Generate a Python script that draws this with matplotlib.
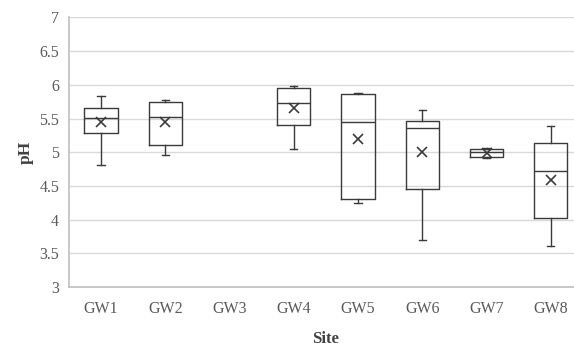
import matplotlib
matplotlib.use("Agg")
import matplotlib.pyplot as plt

sites = ["GW1", "GW2", "GW3", "GW4", "GW5", "GW6", "GW7", "GW8"]
whisker_low = [4.81, 4.96, None, 5.05, 4.25, 3.69, 4.92, 3.61]
q1 = [5.29, 5.11, None, 5.41, 4.31, 4.45, 4.93, 4.02]
median = [5.51, 5.53, None, 5.73, 5.45, 5.36, 5.00, 4.72]
q3 = [5.66, 5.75, None, 5.96, 5.86, 5.47, 5.05, 5.14]
whisker_high = [5.83, 5.78, None, 5.98, 5.88, 5.63, 5.06, 5.39]
mean = [5.45, 5.45, None, 5.66, 5.19, 5.01, 4.99, 4.59]
yticks = [3, 3.5, 4, 4.5, 5, 5.5, 6, 6.5, 7]
ytick_labels = ["3", "3.5", "4", "4.5", "5", "5.5", "6", "6.5", "7"]

plt.rcParams["font.family"] = ["Liberation Serif", "DejaVu Serif"]

fig = plt.figure(figsize=(5.74, 3.47), dpi=100)
ax = fig.add_axes([0.120, 0.173, 0.8955, 0.7767])

stats = []
positions = []
for i, s in enumerate(sites):
    if q1[i] is None:
        continue
    stats.append(dict(label=s, whislo=whisker_low[i], q1=q1[i], med=median[i],
                      q3=q3[i], whishi=whisker_high[i], mean=mean[i], fliers=[]))
    positions.append(i + 1)

line_col = "#3a3a3a"
ax.bxp(stats, positions=positions, widths=0.52, showmeans=True,
       capwidths=0.11,
       boxprops=dict(color=line_col, linewidth=1.0),
       medianprops=dict(color=line_col, linewidth=1.0),
       whiskerprops=dict(color=line_col, linewidth=1.0),
       capprops=dict(color=line_col, linewidth=1.0),
       meanprops=dict(marker="x", markeredgecolor=line_col, markersize=7,
                      markeredgewidth=1.2))

ax.set_xlim(0.5, len(sites) + 0.5)
ax.set_ylim(3, 7)
ax.set_xticks(range(1, len(sites) + 1))
ax.set_xticklabels(sites, fontsize=11.5, color="#595959")
ax.set_yticks(yticks)
ax.set_yticklabels(ytick_labels, fontsize=11.5, color="#595959")
ax.tick_params(axis="x", length=0, pad=10)
ax.tick_params(axis="y", length=0, pad=7)
ax.grid(axis="y", color="#d9d9d9", linewidth=1.0)
ax.set_axisbelow(True)
for sp in ["top", "right"]:
    ax.spines[sp].set_visible(False)
ax.spines["left"].set_color("#bfbfbf")
ax.spines["bottom"].set_color("#bfbfbf")
ax.spines["left"].set_linewidth(1.2)
ax.spines["bottom"].set_linewidth(1.2)

ax.set_xlabel("Site", fontsize=12, fontweight="bold", color="#404040", labelpad=10)
ax.set_ylabel("pH", fontsize=12.5, fontweight="bold", color="#404040", labelpad=4)

fig.savefig("out.png", dpi=100)
